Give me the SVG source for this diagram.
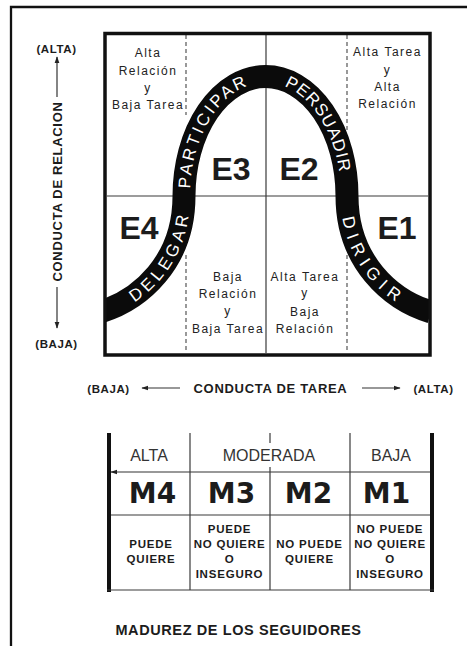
<svg xmlns="http://www.w3.org/2000/svg" width="467" height="646" viewBox="0 0 467 646">
  <defs>
    <style>
      text { font-family: "Liberation Sans", Arial, Helvetica, sans-serif; fill: #1c1c1c; }
      .frame { fill: none; stroke: #111; stroke-width: 2.3; }
      .box { fill: none; stroke: #111; stroke-width: 3.5; }
      .thin { fill: none; stroke: #3a3a3a; stroke-width: 1.2; }
      .dash { fill: none; stroke: #555; stroke-width: 1.2; stroke-dasharray: 4 3; }
      .band { fill: none; stroke: #0b0b0b; stroke-width: 23; }
      .bandtxt { fill: #fff; font-size: 17px; dominant-baseline: central; }
      .quad { font-size: 12px; letter-spacing: 1.5px; text-anchor: middle; fill: #222; }
      .style { font-size: 32px; font-weight: bold; text-anchor: middle; }
      .axis { font-size: 13px; font-weight: bold; letter-spacing: 0.7px; text-anchor: middle; }
      .axend { font-size: 11.5px; font-weight: bold; letter-spacing: 0.6px; text-anchor: middle; }
      .lvl { font-size: 16px; text-anchor: middle; fill: #333; }
      .mat { font-family: "DejaVu Sans", Verdana, sans-serif; font-size: 28px; font-weight: bold; text-anchor: middle; }
      .desc { font-size: 11.5px; font-weight: bold; letter-spacing: 0.8px; text-anchor: middle; }
      .title { font-size: 14.5px; font-weight: bold; letter-spacing: 0.6px; text-anchor: middle; }
      .bar { stroke: #111; stroke-width: 4; }
      .arrow { fill: none; stroke: #333; stroke-width: 1.2; marker-end: url(#ah); }
    </style>
    <marker id="ah" viewBox="0 0 10 10" refX="9" refY="5" markerUnits="userSpaceOnUse" markerWidth="7" markerHeight="7" orient="auto">
      <path d="M0,1.5 L10,5 L0,8.5 z" fill="#222"/>
    </marker>
    <clipPath id="inside">
      <rect x="105" y="33.5" width="325" height="321.5"/>
    </clipPath>
    <!-- centre lines of the band segments, used for the lettering -->
    <path id="p-delegar" d="M100,312 C140,300 184,262 184,196"/>
    <path id="p-participar" d="M184.05,191.8 A81.5,119.5 0 0 1 251.3,78.3"/>
    <path id="p-persuadir" d="M286.6,80.6 A81.5,119.5 0 0 1 345.5,173.2"/>
    <path id="p-dirigir" d="M347,196 C347,262 391,300 431,312"/>
  </defs>

  <rect width="467" height="646" fill="#fff"/>

  <!-- page frame (left and top edges) -->
  <path class="frame" d="M11,646 V7 H467"/>

  <!-- leadership style grid -->
  <g id="grid">
    <line class="thin" x1="266" y1="35" x2="266" y2="353"/>
    <line class="thin" x1="107" y1="196" x2="428" y2="196"/>
    <line class="dash" x1="186" y1="35" x2="186" y2="115"/>
    <line class="dash" x1="186" y1="255" x2="186" y2="353"/>
    <line class="dash" x1="347" y1="35" x2="347" y2="133"/>
    <line class="dash" x1="347" y1="255" x2="347" y2="353"/>
  </g>

  <!-- bell-shaped band with the four styles -->
  <g id="band" clip-path="url(#inside)">
    <path class="band" d="M100,312 C140,300 184,262 184,196 A81.5,119.5 0 0 1 347,196 C347,262 391,300 431,312"/>
    <text class="bandtxt" letter-spacing="3.2"><textPath href="#p-delegar" startOffset="56%" text-anchor="middle">DELEGAR</textPath></text>
    <text class="bandtxt" letter-spacing="3.4"><textPath href="#p-participar" startOffset="50%" text-anchor="middle">PARTICIPAR</textPath></text>
    <text class="bandtxt" letter-spacing="1.6"><textPath href="#p-persuadir" startOffset="50%" text-anchor="middle">PERSUADIR</textPath></text>
    <text class="bandtxt" letter-spacing="5.6"><textPath href="#p-dirigir" startOffset="47%" text-anchor="middle">DIRIGIR</textPath></text>
  </g>

  <rect id="frame-grid" class="box" x="105" y="33.5" width="325" height="321.5"/>

  <!-- quadrant descriptions -->
  <g id="q-top-left">
    <text class="quad" x="148" y="57">Alta</text>
    <text class="quad" x="148" y="75">Relación</text>
    <text class="quad" x="148" y="92">y</text>
    <text class="quad" x="148" y="109">Baja Tarea</text>
  </g>
  <g id="q-top-right">
    <text class="quad" x="387.5" y="56">Alta Tarea</text>
    <text class="quad" x="387.5" y="74">y</text>
    <text class="quad" x="387.5" y="91">Alta</text>
    <text class="quad" x="387.5" y="108">Relación</text>
  </g>
  <g id="q-bottom-left">
    <text class="quad" x="228" y="281">Baja</text>
    <text class="quad" x="228" y="298">Relación</text>
    <text class="quad" x="228" y="315">y</text>
    <text class="quad" x="228" y="333">Baja Tarea</text>
  </g>
  <g id="q-bottom-right">
    <text class="quad" x="305" y="281">Alta Tarea</text>
    <text class="quad" x="305" y="297">y</text>
    <text class="quad" x="305" y="316">Baja</text>
    <text class="quad" x="305" y="333">Relación</text>
  </g>

  <!-- style codes -->
  <g id="styles">
    <text id="e3" class="style" x="231" y="180">E3</text>
    <text id="e2" class="style" x="299" y="180">E2</text>
    <text id="e4" class="style" x="139" y="239">E4</text>
    <text id="e1" class="style" x="397" y="239">E1</text>
  </g>

  <!-- axis labels -->
  <g id="axis-relacion">
    <text class="axend" x="56.5" y="53">(ALTA)</text>
    <text class="axis" transform="translate(62,191.5) rotate(-90)" letter-spacing="1">CONDUCTA DE RELACION</text>
    <text class="axend" x="56.5" y="348">(BAJA)</text>
  </g>
  <g id="axis-tarea">
    <text class="axend" x="108.5" y="393">(BAJA)</text>
    <text class="axis" x="270.5" y="393">CONDUCTA DE TAREA</text>
    <text class="axend" x="433.5" y="393">(ALTA)</text>
  </g>

  <!-- axis arrows -->
  <g id="connectors">
    <line class="arrow" x1="57" y1="97" x2="57" y2="57"/>
    <line class="arrow" x1="57" y1="287" x2="57" y2="328"/>
    <line class="arrow" x1="180" y1="388" x2="142" y2="388"/>
    <line class="arrow" x1="362" y1="388" x2="400" y2="388"/>
    <line class="arrow" x1="430" y1="472" x2="111" y2="472"/>
  </g>

  <!-- follower maturity table -->
  <g id="maturity-table">
    <line class="bar" x1="109" y1="433" x2="109" y2="592"/>
    <line class="bar" x1="432" y1="433" x2="432" y2="592"/>
    <line class="thin" x1="190" y1="433" x2="190" y2="590"/>
    <line class="thin" x1="270" y1="433" x2="270" y2="443"/>
    <line class="thin" x1="270" y1="467" x2="270" y2="590"/>
    <line class="thin" x1="350" y1="433" x2="350" y2="590"/>
    <line class="thin" x1="111" y1="515" x2="430" y2="515"/>
    <line class="thin" x1="107" y1="590" x2="434" y2="590" stroke-width="1.6"/>
  </g>
  <g id="lvl-alta"><text class="lvl" x="149" y="461">ALTA</text></g>
  <g id="lvl-moderada"><text class="lvl" x="269" y="461">MODERADA</text></g>
  <g id="lvl-baja"><text class="lvl" x="391" y="461">BAJA</text></g>

  <g id="m4">
    <text class="mat" x="152.5" y="503">M4</text>
    <text class="desc" x="151" y="548">PUEDE</text>
    <text class="desc" x="151" y="563">QUIERE</text>
  </g>
  <g id="m3">
    <text class="mat" x="231.5" y="503">M3</text>
    <text class="desc" x="229.5" y="533">PUEDE</text>
    <text class="desc" x="229.5" y="548">NO QUIERE</text>
    <text class="desc" x="229.5" y="563">O</text>
    <text class="desc" x="229.5" y="578">INSEGURO</text>
  </g>
  <g id="m2">
    <text class="mat" x="308.5" y="503">M2</text>
    <text class="desc" x="309.5" y="548">NO PUEDE</text>
    <text class="desc" x="309.5" y="563">QUIERE</text>
  </g>
  <g id="m1">
    <text class="mat" x="386.5" y="503">M1</text>
    <text class="desc" x="390" y="533">NO PUEDE</text>
    <text class="desc" x="390" y="548">NO QUIERE</text>
    <text class="desc" x="390" y="563">O</text>
    <text class="desc" x="390" y="578">INSEGURO</text>
  </g>

  <g id="title">
    <text class="title" x="238.5" y="635">MADUREZ DE LOS SEGUIDORES</text>
  </g>
</svg>
